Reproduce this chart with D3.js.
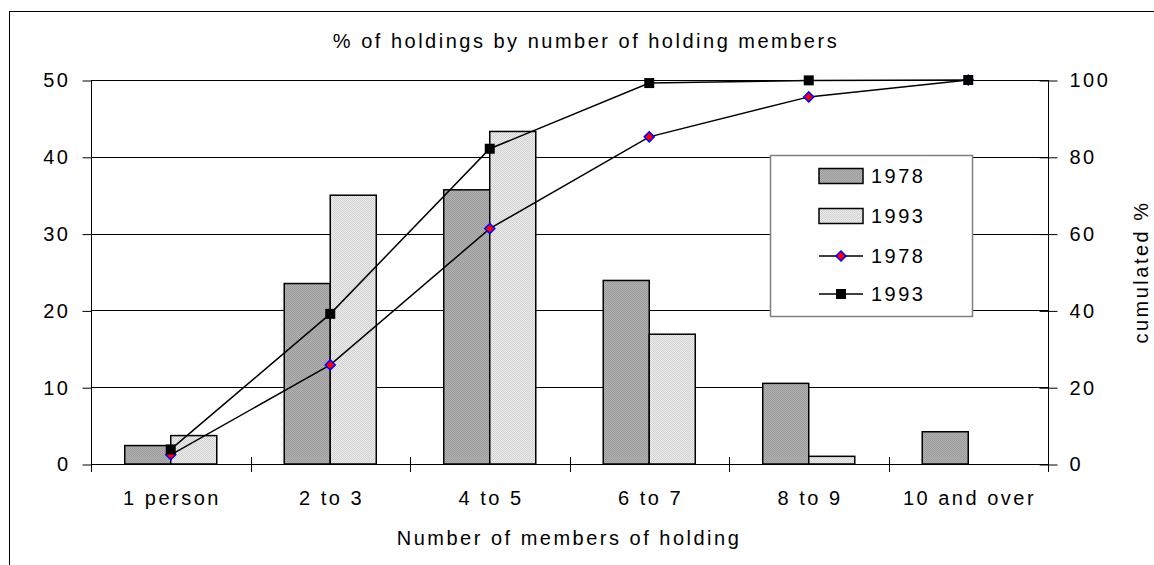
<!DOCTYPE html>
<html>
<head>
<meta charset="utf-8">
<script src="https://cdn.jsdelivr.net/npm/d3@7"></script>
<style>
  html, body { margin: 0; padding: 0; background: #fff; }
  svg { display: block; font-family: "Liberation Sans", Arial, sans-serif; }
  text { font-size: 20px; letter-spacing: 2.5px; fill: #000; }
</style>
</head>
<body>
<svg id="chart" width="1154" height="565"></svg>
<script>
// Household size categories
const categories = ["1 person", "2 to 3", "4 to 5", "6 to 7", "8 to 9", "10 and over"];
// Share of holdings (%) per category
const share1978 = [2.4, 23.5, 35.7, 23.9, 10.5, 4.2];
const share1993 = [3.7, 35.0, 43.3, 16.9, 1.0, 0];
// Cumulated share (%)
const cum1978 = [2.4, 25.8, 61.3, 85.2, 95.6, 100];
const cum1993 = [3.8, 39.1, 82.1, 99.2, 99.9, 100];
// Axis ticks
const leftTicks = [0, 10, 20, 30, 40, 50];
const rightTicks = [0, 20, 40, 60, 80, 100];
const years = ["1978", "1993"];

const svg = d3.select("#chart");
const W = 1154, H = 565;
const plot = { left: 91, right: 1048, top: 80, bottom: 464 };

// Bar texture patterns
const defs = svg.append("defs");
function texture(id, base, dot) {
  const p = defs.append("pattern").attr("id", id)
    .attr("width", 2).attr("height", 2).attr("patternUnits", "userSpaceOnUse");
  p.append("rect").attr("width", 2).attr("height", 2).attr("fill", base);
  p.append("rect").attr("width", 1).attr("height", 1).attr("fill", dot);
  p.append("rect").attr("x", 1).attr("y", 1).attr("width", 1).attr("height", 1).attr("fill", dot);
}
texture("tex1978", "#b0b0b0", "#9c9c9c");
texture("tex1993", "#ececec", "#d2d2d2");
const barFill = { "1978": "url(#tex1978)", "1993": "url(#tex1993)" };

// Outer frame
svg.append("rect").attr("x", 9.5).attr("y", 11.5)
  .attr("width", W + 10).attr("height", H + 10)
  .attr("fill", "none").attr("stroke", "#000").attr("stroke-width", 1);

// Scales
const x = d3.scaleBand().domain(categories)
  .range([plot.left, plot.right]).paddingInner(0.423).paddingOuter(0.2115);
const xSub = d3.scaleBand().domain(years).range([0, x.bandwidth()]);
const yL = d3.scaleLinear().domain([0, 50]).range([plot.bottom, plot.top]);
const yR = d3.scaleLinear().domain([0, 100]).range([plot.bottom, plot.top]);
const step = x.step();

// Gridlines
svg.append("g").selectAll("line").data(leftTicks.filter(d => d > 0)).join("line")
  .attr("x1", plot.left).attr("x2", plot.right)
  .attr("y1", d => Math.round(yL(d)) + 0.5).attr("y2", d => Math.round(yL(d)) + 0.5)
  .attr("stroke", "#000").attr("stroke-width", 1);

// Left axis
const axL = svg.append("g").attr("transform", `translate(${plot.left + 0.5},0.5)`)
  .call(d3.axisLeft(yL).tickValues(leftTicks).tickSize(9).tickPadding(12));
// Right axis
const axR = svg.append("g").attr("transform", `translate(${plot.right + 0.5},0.5)`)
  .call(d3.axisRight(yR).tickValues(rightTicks).tickSize(9).tickPadding(12));
axR.selectAll(".tick line").attr("x1", -9);
[axL, axR].forEach(a => {
  a.select(".domain").remove();
  a.selectAll(".tick line").attr("stroke", "#000");
  a.selectAll("text").attr("font-size", 20).attr("font-family", null);
});
svg.append("line").attr("x1", plot.left + 0.5).attr("x2", plot.left + 0.5)
  .attr("y1", plot.top).attr("y2", plot.bottom + 8).attr("stroke", "#000");
svg.append("line").attr("x1", plot.right + 0.5).attr("x2", plot.right + 0.5)
  .attr("y1", plot.top).attr("y2", plot.bottom + 8).attr("stroke", "#000");

// Bars
const barData = [];
categories.forEach((c, i) => {
  barData.push({ cat: c, year: "1978", v: share1978[i] });
  barData.push({ cat: c, year: "1993", v: share1993[i] });
});
svg.append("g").selectAll("rect").data(barData.filter(d => d.v > 0)).join("rect")
  .attr("x", d => x(d.cat) + xSub(d.year))
  .attr("width", xSub.bandwidth())
  .attr("y", d => yL(d.v))
  .attr("height", d => yL(0) - yL(d.v))
  .attr("fill", d => barFill[d.year])
  .attr("stroke", "#000").attr("stroke-width", 1.5);

// Category axis
const xAxisG = svg.append("g");
xAxisG.append("line").attr("x1", plot.left).attr("x2", plot.right)
  .attr("y1", plot.bottom + 0.5).attr("y2", plot.bottom + 0.5).attr("stroke", "#000");
xAxisG.selectAll("line.tk").data(d3.range(categories.length + 1)).join("line")
  .attr("class", "tk")
  .attr("x1", i => Math.round(plot.left + i * step) + 0.5)
  .attr("x2", i => Math.round(plot.left + i * step) + 0.5)
  .attr("y1", plot.bottom - 7).attr("y2", plot.bottom + 8).attr("stroke", "#000");
xAxisG.selectAll("text").data(categories).join("text")
  .attr("x", d => x(d) + x.bandwidth() / 2 + 1.25)
  .attr("y", 505).attr("text-anchor", "middle").text(d => d);

// Cumulated lines
const cx = i => x(categories[i]) + x.bandwidth() / 2;
const line = d3.line().x((d, i) => cx(i)).y(d => yR(d));
const diamond = d3.symbol().type(d3.symbolDiamond2).size(60);
const square = d3.symbol().type(d3.symbolSquare).size(100);

const g78 = svg.append("g");
g78.append("path").datum(cum1978).attr("d", line)
  .attr("fill", "none").attr("stroke", "#000").attr("stroke-width", 1.5);
g78.selectAll("path.m").data(cum1978).join("path").attr("class", "m")
  .attr("transform", (d, i) => `translate(${cx(i)},${yR(d)})`)
  .attr("d", d3.symbol().type(d3.symbolSquare).size(50))
  .attr("transform", (d, i) => `translate(${cx(i)},${yR(d)}) rotate(45)`)
  .attr("fill", "#ff0000").attr("stroke", "#0000ff").attr("stroke-width", 1.5);

const g93 = svg.append("g");
g93.append("path").datum(cum1993).attr("d", line)
  .attr("fill", "none").attr("stroke", "#000").attr("stroke-width", 1.5);
g93.selectAll("path.m").data(cum1993).join("path").attr("class", "m")
  .attr("transform", (d, i) => `translate(${cx(i)},${yR(d)})`)
  .attr("d", square).attr("fill", "#000");

// Legend
const lg = svg.append("g");
lg.append("rect").attr("x", 770.5).attr("y", 155.5).attr("width", 202).attr("height", 161)
  .attr("fill", "#fff").attr("stroke", "#808080").attr("stroke-width", 1.5);
const rows = [176, 216, 256, 294];
years.forEach((yr, i) => {
  lg.append("rect").attr("x", 819).attr("y", rows[i] - 7.5).attr("width", 44).attr("height", 15)
    .attr("fill", barFill[yr]).attr("stroke", "#000").attr("stroke-width", 1.5);
});
lg.append("line").attr("x1", 819).attr("x2", 863).attr("y1", rows[2]).attr("y2", rows[2])
  .attr("stroke", "#000").attr("stroke-width", 1.5);
lg.append("path").attr("d", d3.symbol().type(d3.symbolSquare).size(50))
  .attr("transform", `translate(841,${rows[2]}) rotate(45)`)
  .attr("fill", "#ff0000").attr("stroke", "#0000ff").attr("stroke-width", 1.5);
lg.append("line").attr("x1", 819).attr("x2", 863).attr("y1", rows[3]).attr("y2", rows[3])
  .attr("stroke", "#000").attr("stroke-width", 1.5);
lg.append("path").attr("d", square).attr("transform", `translate(841,${rows[3]})`).attr("fill", "#000");
lg.selectAll("text").data([...years, ...years]).join("text")
  .attr("x", 871).attr("y", (d, i) => rows[i]).attr("dy", "0.36em").text(d => d);

// Titles
svg.append("text").attr("x", 586).attr("y", 48).attr("text-anchor", "middle")
  .text("% of holdings by number of holding members");
svg.append("text").attr("x", 569).attr("y", 545).attr("text-anchor", "middle")
  .text("Number of members of holding");
svg.append("text").attr("transform", `translate(1148,${(plot.top + plot.bottom) / 2}) rotate(-90)`)
  .attr("text-anchor", "middle").text("cumulated %");
</script>
</body>
</html>
